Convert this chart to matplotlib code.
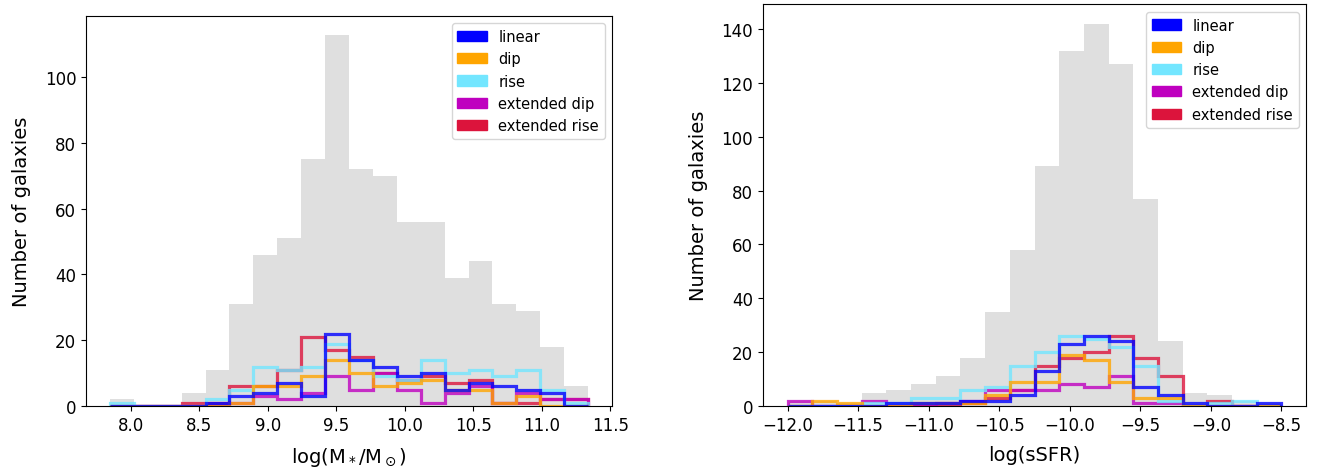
import numpy as np
import matplotlib
matplotlib.use("Agg")
import matplotlib.pyplot as plt
from matplotlib.patches import Patch

# ---- data ----
labels = ["linear", "dip", "rise", "extended dip", "extended rise"]
colors = ["#0000ff", "#ffa500", "#73e6ff", "#bf00bf", "#dc143c"]

# stellar mass bins (20 bins)
mass_lo, mass_hi = 7.847, 11.338
mass_all = [2, 0, 0, 4, 11, 31, 46, 51, 75, 113, 72, 70, 56, 56, 39, 44, 31, 29, 18, 6]
mass_linear = [0, 0, 0, 0, 1, 3, 4, 7, 3, 22, 14, 12, 9, 10, 5, 7, 6, 5, 4, 0]
mass_dip = [0, 0, 0, 0, 0, 1, 6, 6, 9, 14, 10, 6, 7, 8, 5, 5, 1, 3, 0, 0]
mass_rise = [1, 0, 0, 0, 2, 5, 12, 11, 12, 19, 14, 9, 8, 14, 10, 11, 9, 11, 5, 1]
mass_extdip = [0, 0, 0, 0, 0, 1, 3, 2, 4, 9, 5, 10, 5, 1, 4, 6, 1, 4, 2, 2]
mass_extrise = [0, 0, 0, 1, 1, 6, 6, 11, 21, 17, 15, 10, 8, 9, 7, 8, 1, 1, 2, 2]

# sSFR bins (20 bins)
ssfr_lo, ssfr_hi = -12.0, -8.5
ssfr_all = [2, 2, 1, 5, 6, 8, 11, 18, 35, 58, 89, 132, 142, 127, 77, 24, 5, 4, 2, 1]
ssfr_linear = [0, 0, 0, 0, 1, 1, 1, 2, 2, 4, 13, 23, 26, 24, 7, 4, 1, 0, 0, 1]
ssfr_dip = [0, 2, 1, 0, 0, 1, 1, 1, 4, 9, 9, 19, 17, 9, 3, 3, 0, 0, 0, 0]
ssfr_rise = [0, 0, 0, 1, 1, 3, 3, 6, 7, 15, 20, 26, 25, 22, 15, 2, 0, 1, 2, 0]
ssfr_extdip = [2, 0, 0, 2, 0, 0, 1, 2, 6, 6, 6, 8, 7, 11, 1, 1, 0, 0, 0, 0]
ssfr_extrise = [0, 0, 0, 0, 0, 0, 0, 1, 3, 6, 15, 18, 20, 26, 18, 11, 0, 2, 0, 0]

mass_edges = np.linspace(mass_lo, mass_hi, len(mass_all) + 1)
ssfr_edges = np.linspace(ssfr_lo, ssfr_hi, len(ssfr_all) + 1)


def draw_panel(ax, edges, total, subsets, xlabel):
	ax.stairs(total, edges, fill=True, color="#dfdfdf", baseline=0)
	# draw in reverse so "linear" ends up on top
	for i in reversed(range(len(subsets))):
		ax.stairs(subsets[i], edges, color=colors[i], lw=2.3, alpha=0.8, baseline=0)
	ax.set_xlabel(xlabel, fontsize=14, labelpad=8)
	ax.set_ylabel("Number of galaxies", fontsize=14, labelpad=10)
	ax.tick_params(labelsize=12)
	ax.set_ylim(0, max(total) * 1.05)
	handles = [Patch(color=colors[i], label=labels[i]) for i in range(len(labels))]
	ax.legend(handles=handles, loc="upper right", fontsize=10.5)


fig = plt.figure(figsize=(13.25, 4.77), dpi=100)
ax1 = fig.add_axes([0.0649, 0.1468, 0.3970, 0.8176])
ax2 = fig.add_axes([0.5758, 0.1468, 0.4100, 0.8417])

draw_panel(ax1, mass_edges, mass_all,
	[mass_linear, mass_dip, mass_rise, mass_extdip, mass_extrise],
	r"log(M$_*$/M$_\odot$)")
ax1.set_xticks([8.0, 8.5, 9.0, 9.5, 10.0, 10.5, 11.0, 11.5])

draw_panel(ax2, ssfr_edges, ssfr_all,
	[ssfr_linear, ssfr_dip, ssfr_rise, ssfr_extdip, ssfr_extrise],
	"log(sSFR)")
ax2.set_xticks([-12.0, -11.5, -11.0, -10.5, -10.0, -9.5, -9.0, -8.5])

fig.savefig("out.png", dpi=100)
